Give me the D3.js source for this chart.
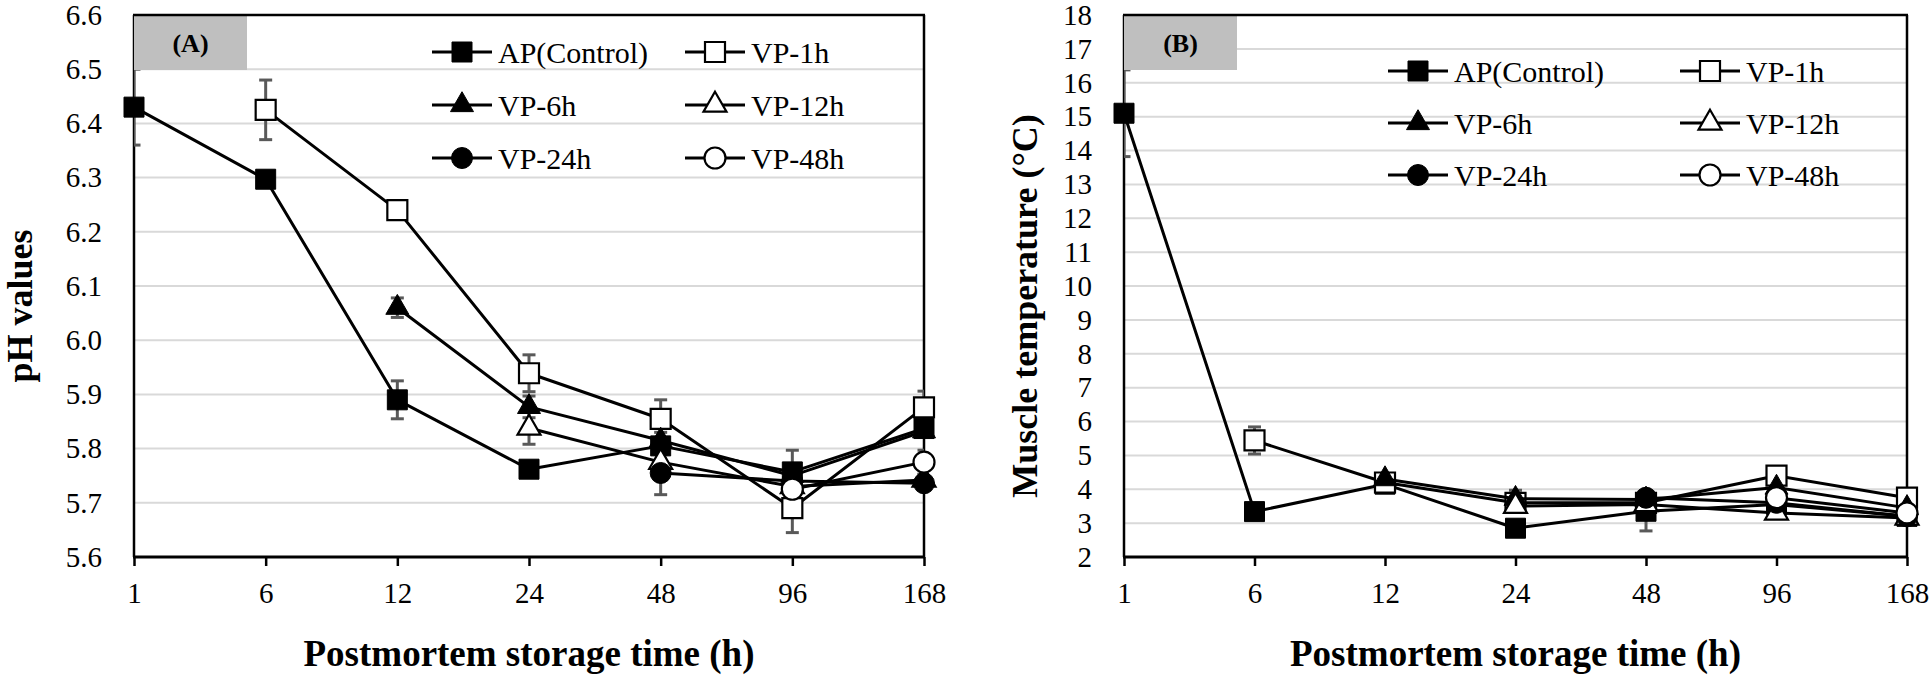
<!DOCTYPE html>
<html>
<head>
<meta charset="utf-8">
<script src="https://cdn.jsdelivr.net/npm/d3@7"></script>
<style>
  html, body { margin: 0; padding: 0; background: #ffffff; }
  svg { display: block; }
  text { font-family: "Liberation Serif", "Times New Roman", serif; fill: #000; }
</style>
</head>
<body>
<svg id="chart" width="1932" height="677"></svg>
<script>
// ---------------- DATA ----------------
const categories = ["1", "6", "12", "24", "48", "96", "168"];
const seriesNames = ["AP(Control)", "VP-1h", "VP-6h", "VP-12h", "VP-24h", "VP-48h"];

// Panel A: pH values
const phTicks = [5.6, 5.7, 5.8, 5.9, 6.0, 6.1, 6.2, 6.3, 6.4, 6.5, 6.6];
const phAP   = [6.43, 6.297, 5.89, 5.762, 5.805, 5.757, 5.837];
const phVP1  = [null, 6.425, 6.24, 5.939, 5.855, 5.69, 5.876];
const phVP6  = [null, null, 6.06, 5.877, 5.815, 5.75, 5.832];
const phVP12 = [null, null, null, 5.838, 5.775, 5.73, 5.742];
const phVP24 = [null, null, null, null, 5.755, 5.74, 5.736];
const phVP48 = [null, null, null, null, null, 5.725, 5.775];

const phAPerr   = [0.07, 0.012, 0.035, 0.006, 0.015, 0.04, 0.015];
const phVP1err  = [null, 0.055, 0.012, 0.034, 0.035, 0.045, 0.03];
const phVP6err  = [null, null, 0.018, 0.02, 0.015, 0.01, 0.01];
const phVP12err = [null, null, null, 0.03, 0.015, 0.01, 0.01];
const phVP24err = [null, null, null, null, 0.04, 0.01, 0.01];
const phVP48err = [null, null, null, null, null, 0.01, 0.022];

// Panel B: muscle temperature (°C)
const tempTicks = [2, 3, 4, 5, 6, 7, 8, 9, 10, 11, 12, 13, 14, 15, 16, 17, 18];
const tAP   = [15.1, 3.34, 4.15, 2.85, 3.35, 3.55, 3.2];
const tVP1  = [null, 5.44, 4.2, 3.6, 3.6, 4.4, 3.75];
const tVP6  = [null, null, 4.3, 3.72, 3.7, 4.05, 3.45];
const tVP12 = [null, null, null, 3.5, 3.55, 3.3, 3.15];
const tVP24 = [null, null, null, null, 3.75, 3.6, 3.2];
const tVP48 = [null, null, null, null, null, 3.75, 3.3];

const tAPerr   = [1.28, 0.15, 0.1, 0.2, 0.58, 0.1, 0.1];
const tVP1err  = [null, 0.4, 0.1, 0.2, 0.1, 0.12, 0.1];
const tVP6err  = [null, null, 0.15, 0.25, 0.1, 0.1, 0.1];
const tVP12err = [null, null, null, 0.15, 0.1, 0.1, 0.1];
const tVP24err = [null, null, null, null, 0.15, 0.1, 0.1];
const tVP48err = [null, null, null, null, null, 0.1, 0.1];

// marker styles per series: [shape, filled]
const markerShapes = [
  [d3.symbolSquare, true],
  [d3.symbolSquare, false],
  [d3.symbolTriangle, true],
  [d3.symbolTriangle, false],
  [d3.symbolCircle, true],
  [d3.symbolCircle, false]
];

// ---------------- DRAW ----------------
const svg = d3.select("#chart");

function markerPath(shape) {
  let size;
  if (shape === d3.symbolSquare) size = 20 * 20;
  else if (shape === d3.symbolTriangle) size = Math.sqrt(3) / 4 * 23 * 23;
  else size = Math.PI * 10.5 * 10.5;
  return d3.symbol().type(shape).size(size)();
}

function drawMarker(g, shape, filled, x, y) {
  g.append("path")
    .attr("d", markerPath(shape))
    .attr("transform", `translate(${x},${y})`)
    .attr("fill", filled ? "#000" : "#fff")
    .attr("stroke", "#000")
    .attr("stroke-width", filled ? 1 : 2.2);
}

function drawPanel(cfg) {
  const g = svg.append("g");
  const x = d3.scalePoint().domain(categories).range([cfg.left, cfg.right]).padding(0);
  const y = d3.scaleLinear().domain(cfg.domain).range([cfg.bottom, cfg.top]);

  // gridlines
  g.append("g").selectAll("line")
    .data(cfg.ticks.slice(1, -1))
    .join("line")
    .attr("x1", cfg.left).attr("x2", cfg.right)
    .attr("y1", d => y(d)).attr("y2", d => y(d))
    .attr("stroke", "#d9d9d9").attr("stroke-width", 2);

  // y tick labels
  g.append("g").selectAll("text")
    .data(cfg.ticks)
    .join("text")
    .attr("x", cfg.left - 32)
    .attr("y", d => y(d))
    .attr("dy", "0.34em")
    .attr("text-anchor", "end")
    .attr("font-size", 29)
    .text(d => cfg.fmt(d));

  // x axis via d3.axisBottom
  const xAxis = g.append("g")
    .attr("transform", `translate(0,${cfg.bottom})`)
    .call(d3.axisBottom(x).tickSize(9).tickPadding(16));
  xAxis.select(".domain").remove();
  xAxis.selectAll(".tick line").attr("stroke", "#000").attr("stroke-width", 2.5);
  xAxis.selectAll(".tick text")
    .attr("font-size", 29)
    .attr("font-family", "Liberation Serif, Times New Roman, serif")
    .attr("fill", "#000");

  // frame
  g.append("line").attr("x1", cfg.left).attr("x2", cfg.left)
    .attr("y1", cfg.top).attr("y2", cfg.bottom).attr("stroke", "#000").attr("stroke-width", 2.5);
  g.append("line").attr("x1", cfg.right).attr("x2", cfg.right)
    .attr("y1", cfg.top).attr("y2", cfg.bottom).attr("stroke", "#000").attr("stroke-width", 2.5);
  g.append("line").attr("x1", cfg.left - 1).attr("x2", cfg.right + 1)
    .attr("y1", cfg.bottom).attr("y2", cfg.bottom).attr("stroke", "#000").attr("stroke-width", 3);

  // clip for error bars
  const clipId = "clip" + cfg.id;
  svg.append("defs").append("clipPath").attr("id", clipId)
    .append("rect").attr("x", cfg.left).attr("y", cfg.top)
    .attr("width", cfg.right - cfg.left).attr("height", cfg.bottom - cfg.top);

  const eg = g.append("g").attr("clip-path", `url(#${clipId})`);
  cfg.series.forEach((vals, si) => {
    const errs = cfg.errors[si];
    vals.forEach((v, i) => {
      if (v == null || errs[i] == null) return;
      const cx = x(categories[i]);
      const y1 = y(v - errs[i]), y2 = y(v + errs[i]);
      eg.append("line").attr("x1", cx).attr("x2", cx).attr("y1", y1).attr("y2", y2)
        .attr("stroke", "#595959").attr("stroke-width", 3);
      [y1, y2].forEach(yy => {
        eg.append("line").attr("x1", cx - 6.5).attr("x2", cx + 6.5).attr("y1", yy).attr("y2", yy)
          .attr("stroke", "#595959").attr("stroke-width", 3);
      });
    });
  });

  // series lines + markers
  const line = d3.line()
    .defined(d => d.v != null)
    .x(d => x(d.c)).y(d => y(d.v));
  cfg.series.forEach((vals, si) => {
    const pts = vals.map((v, i) => ({ c: categories[i], v: v }));
    g.append("path").datum(pts)
      .attr("d", line)
      .attr("fill", "none").attr("stroke", "#000").attr("stroke-width", 3)
      .attr("stroke-linejoin", "round");
    const mg = g.append("g");
    pts.forEach(p => {
      if (p.v == null) return;
      drawMarker(mg, markerShapes[si][0], markerShapes[si][1], x(p.c), y(p.v));
    });
  });

  // panel label box
  g.append("rect").attr("x", cfg.left).attr("y", cfg.top)
    .attr("width", 113).attr("height", 55).attr("fill", "#bfbfbf");
  g.append("text").attr("x", cfg.left + 56.5).attr("y", cfg.top + 27.5)
    .attr("dy", "0.35em").attr("text-anchor", "middle")
    .attr("font-size", 26).attr("font-weight", "bold").text(cfg.label);
  // top border
  g.append("line").attr("x1", cfg.left - 1).attr("x2", cfg.right + 1)
    .attr("y1", cfg.top).attr("y2", cfg.top).attr("stroke", "#000").attr("stroke-width", 2.5);

  // legend
  const lg = g.append("g");
  seriesNames.forEach((name, si) => {
    const col = si % 2, row = Math.floor(si / 2);
    const lx = cfg.legendCols[col], ly = cfg.legendRows[row];
    lg.append("line").attr("x1", lx).attr("x2", lx + 60).attr("y1", ly).attr("y2", ly)
      .attr("stroke", "#000").attr("stroke-width", 3);
    drawMarker(lg, markerShapes[si][0], markerShapes[si][1], lx + 30, ly);
    lg.append("text").attr("x", lx + 66).attr("y", ly).attr("dy", "0.35em")
      .attr("font-size", 30).text(name);
  });

  // axis titles
  g.append("text")
    .attr("x", (cfg.left + cfg.right) / 2).attr("y", 666)
    .attr("text-anchor", "middle").attr("font-size", 37).attr("font-weight", "bold")
    .text("Postmortem storage time (h)");
  g.append("text")
    .attr("transform", `translate(${cfg.yTitleX},306) rotate(-90)`)
    .attr("text-anchor", "middle").attr("font-size", 36).attr("font-weight", "bold")
    .text(cfg.yTitle);
}

drawPanel({
  id: "A", left: 134, right: 924, top: 15, bottom: 557,
  domain: [5.6, 6.6], ticks: phTicks, fmt: d3.format(".1f"),
  series: [phAP, phVP1, phVP6, phVP12, phVP24, phVP48],
  errors: [phAPerr, phVP1err, phVP6err, phVP12err, phVP24err, phVP48err],
  label: "(A)", yTitle: "pH values", yTitleX: 32,
  legendCols: [432, 685], legendRows: [52, 105, 158]
});

drawPanel({
  id: "B", left: 1124, right: 1907, top: 15, bottom: 557,
  domain: [2, 18], ticks: tempTicks, fmt: d3.format("d"),
  series: [tAP, tVP1, tVP6, tVP12, tVP24, tVP48],
  errors: [tAPerr, tVP1err, tVP6err, tVP12err, tVP24err, tVP48err],
  label: "(B)", yTitle: "Muscle temperature (°C)", yTitleX: 1037,
  legendCols: [1388, 1680], legendRows: [71, 123, 175]
});
</script>
</body>
</html>
